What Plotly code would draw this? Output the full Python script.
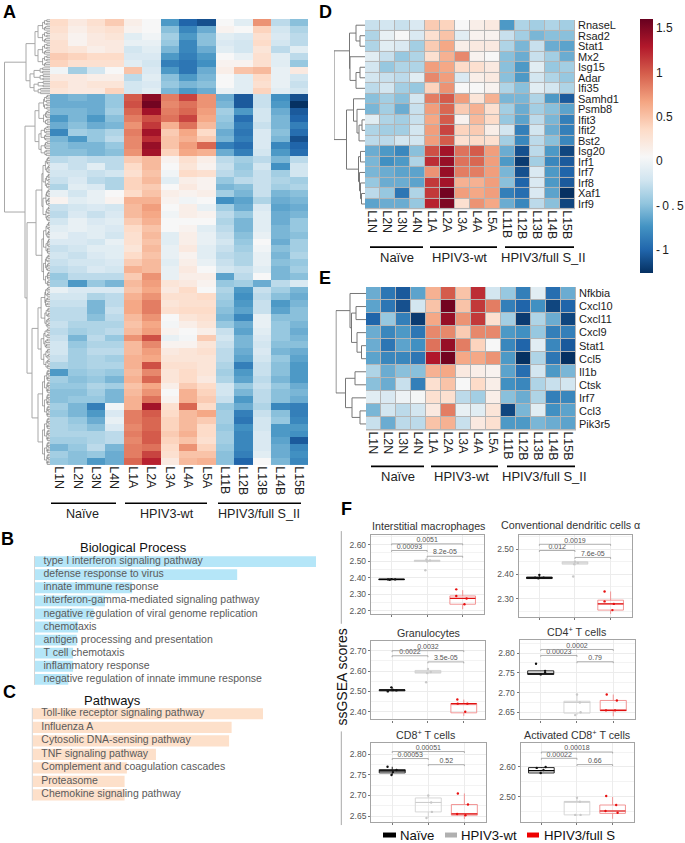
import plotly.graph_objects as go

W, H = 685, 843
FONT = "Liberation Sans"

COLS = ["L1N","L2N","L3N","L4N","L1A","L2A","L3A","L4A","L5A","L11B","L12B","L13B","L14B","L15B"]
GROUPS = ["Naïve", "HPIV3-wt", "HPIV3/full S_II"]

Z_A = [
[.35,.2,.3,.45,.15,.05,-.7,-1.0,-1.1,.05,-.1,.75,-.3,-.5],
[.3,.15,.25,.3,.1,.05,-.5,-.8,-.6,.1,.05,.4,-.2,-.35],
[.25,.1,.2,.25,-.1,0,-.4,-.7,-.5,-.1,-.15,.3,-.15,-.3],
[.3,.1,.2,.2,-.05,-.05,-.45,-.8,-.5,-.15,-.2,.35,-.2,-.3],
[.3,.25,.15,.2,-.2,-.1,-.55,-.8,-.6,-.1,-.2,.25,-.3,-.1],
[.45,.4,.35,.35,-.15,-.15,-.7,-.85,-.7,.05,-.05,.3,-.1,-.3],
[.4,.3,.3,.3,-.1,-.2,-.85,-.9,-.75,.1,.1,.3,-.1,-.45],
[.0,-.4,-.2,.05,.5,-.15,-.7,-.9,-.6,.15,.5,.55,-.05,.2],
[.2,.2,.15,.15,-.3,-.1,-.5,-.7,-.55,.05,-.1,.35,-.05,-.2],
[.3,.2,.25,.25,-.2,-.15,-.45,-.55,-.5,.05,-.1,.3,-.05,-.25],
[.25,.2,.2,.4,-.2,-.1,-.55,-.7,-.6,-.05,-.1,.4,-.1,-.2],
[-.6,-.55,-.6,-.45,1.0,1.45,.85,1.1,.75,-.6,-1.05,-.25,-.75,-1.1],
[-.6,-.6,-.6,-.45,1.05,1.55,.8,.9,.75,-.55,-1.05,-.25,-.7,-1.25],
[-.55,-.55,-.6,-.4,.95,1.35,.85,.95,.7,-.4,-.7,-.2,-.6,-1.05],
[-.7,-.55,-.7,-.5,.85,1.05,.9,1.1,.65,-.45,-.95,-.2,-.55,-1.0],
[-.6,-.5,-.6,-.55,.75,1.15,.6,.9,.55,-.5,-.85,-.25,-.55,-.85],
[-.8,-.4,-.45,-.35,.85,1.35,.45,.65,.35,-.6,-.9,-.15,-.5,-.95],
[-.55,-.7,-.45,-.3,.8,1.2,.5,.6,.45,-.55,-.85,-.15,-.55,-1.1],
[-.5,-.55,-.55,-.45,.8,1.4,.5,.7,.95,-.85,-.95,-.15,-.8,-1.0],
[-.5,-.5,-.55,-.5,.75,1.35,.4,.65,.6,-.6,-.85,-.2,-.7,-.95],
[-.3,-.25,-.3,-.3,.45,.55,.1,.3,.15,-.3,-.4,-.3,-.55,-.3],
[-.15,-.25,-.1,-.3,.35,.55,.05,.25,.1,-.25,-.45,-.2,-.75,-.2],
[-.2,-.2,-.25,-.2,.3,.5,0,.35,.3,-.3,-.4,-.25,-.4,-.2],
[-.25,-.15,-.3,-.35,.4,.55,-.1,.15,.1,-.45,-.3,-.25,-.35,-.4],
[-.35,-.1,-.15,-.35,.4,.45,.05,.2,.1,-.55,-.5,-.25,-.4,-.35],
[-.05,-.2,-.05,.05,.35,.5,.15,.1,.15,-.4,-.55,-.25,-.55,-.5],
[.1,-.1,-.05,.1,.6,.6,.1,0,.05,-.75,-.65,-.35,-.6,-.55],
[-.25,-.2,-.15,-.2,.55,.7,.05,.15,-.05,-.4,-.6,-.15,-.65,-.6],
[-.3,-.15,-.25,-.15,.55,.65,0,.15,.1,-.3,-.45,-.1,-.6,-.55],
[-.2,-.05,-.15,-.1,.45,.6,.05,.05,.05,-.35,-.55,-.1,-.6,-.45],
[-.1,-.05,-.1,-.15,.35,.5,.05,.1,-.1,-.3,-.55,-.1,-.55,-.45],
[-.05,-.15,-.1,-.2,.3,.55,-.1,.15,-.05,-.25,-.5,-.05,-.55,-.5],
[-.15,-.15,-.2,-.05,.3,.5,-.1,.15,-.05,-.2,-.45,.05,-.6,-.4],
[-.25,-.2,-.1,-.1,.25,.55,-.05,.2,-.1,-.25,-.4,.0,-.5,-.4],
[-.2,-.25,-.15,-.1,.35,.5,-.05,.1,-.1,-.3,-.35,-.05,-.55,-.35],
[-.25,-.2,-.2,-.15,.45,.55,-.1,.15,-.05,-.25,-.35,-.05,-.5,-.45],
[-.3,-.25,-.15,-.2,.6,.55,-.05,.2,.05,-.2,-.25,-.1,-.55,-.4],
[-.45,-.3,-.3,-.3,.45,.75,-.05,.15,.15,-.65,-.3,.05,-.55,-.5],
[-.4,-.7,-.45,-.55,.55,.7,.25,.2,.1,-.45,-.4,-.6,-.3,-.15],
[-.05,-.15,-.15,-.15,.5,.65,.2,.35,.05,-.35,-.7,-.25,-.4,-.55],
[-.2,-.2,-.35,-.3,.6,.75,.3,.3,.35,-.4,-.75,-.3,-.5,-.6],
[-.25,-.25,-.55,-.3,.65,.85,.25,.3,.3,-.45,-.7,-.25,-.7,-.55],
[-.3,-.3,-.55,-.25,.65,.85,.3,.35,.35,-.5,-.65,-.25,-.65,-.5],
[-.3,-.3,-.5,-.3,.55,.75,.05,.25,.3,-.55,-.8,-.05,-.5,-.5],
[-.25,-.35,-.35,-.35,.5,.65,.02,.15,.25,-.45,-.6,-.05,-.45,-.55],
[-.3,-.4,-.35,-.3,.55,.7,.1,.05,.15,-.25,-.65,-.1,-.45,-.6],
[-.25,-.55,-.3,-.45,.75,1.05,-.05,.02,.45,-.2,-.55,-.15,-.45,-.55],
[-.2,-.45,-.35,-.35,.55,.8,.1,.1,.25,-.25,-.55,-.2,-.5,-.5],
[-.2,-.4,-.3,-.3,.55,.7,.2,.25,.3,-.3,-.6,-.15,-.55,-.6],
[-.25,-.4,-.35,-.4,.6,.65,.25,.25,.25,-.3,-.65,-.2,-.45,-.65],
[-.35,-.4,-.35,-.35,.6,1.05,.3,.3,.25,-.35,-.85,-.25,-.5,-.7],
[-.7,-.45,-.4,-.45,.55,.8,.25,.35,.25,-.4,-.7,-.25,-.5,-.7],
[-.4,-.5,-.45,-.55,.6,.95,.25,.35,.2,-.35,-.65,-.3,-.55,-.7],
[-.45,-.45,-.35,-.4,.5,.65,.15,.45,.35,-.2,-.45,-.25,-.45,-.6],
[-.5,-.5,-.4,-.55,.55,.75,.05,.6,.4,-.2,-.55,-.3,-.5,-.55],
[-.5,-.45,-.45,-.55,.6,.9,.1,.6,.45,-.25,-.7,-.3,-.5,-.6],
[-.4,-.55,-.85,0,.6,1.35,.3,.95,.35,-.45,-.6,-.35,-.8,-.85],
[-.45,-.55,-.7,-.15,.85,1.0,.35,.55,.65,-.4,-.85,-.25,-.5,-.85],
[-.35,-.45,-.6,-.05,.85,.95,.4,.55,.45,-.4,-.9,-.2,-.45,-.8],
[-.35,-.4,-.5,-.15,.8,.95,.4,.55,.35,-.45,-.75,-.2,-.7,-.7],
[-.35,-.35,-.35,-.3,.85,1.0,.45,.6,.35,-.4,-.8,-.15,-.7,-.75],
[-.4,-.4,-.35,-.3,.8,1.0,.4,.5,.3,-.4,-.8,-.15,-.65,-1.05],
[-.55,-.45,-.3,-.55,.85,.9,.35,.75,.4,-.45,-.8,-.15,-.6,-.8],
[-.4,-.5,-.45,-.6,.85,1.1,.3,.5,.5,-.5,-.85,-.1,-.6,-.75],
[-.45,-.5,-.7,-.6,.95,1.25,.2,.55,.6,-.5,-1.0,.05,-.55,-.8],
]

GENES_D = ["RnaseL","Rsad2","Stat1","Mx2","Isg15","Adar","Ifi35","Samhd1","Psmb8","Ifit3","Ifit2","Bst2",
           "Isg20","Irf1","Irf7","Irf8","Xaf1","Irf9"]
Z_D = [
[-.25,-.2,-.25,-.15,.45,.4,.05,.15,.2,-.7,-.35,-.4,-.35,-.4],
[-.35,-.05,.05,-.15,.3,.5,-.1,.1,.1,-.25,-.4,-.55,-.5,-.5],
[-.35,-.1,-.15,-.4,.45,.65,.15,.2,.2,-.35,-.55,-.25,-.6,-.65],
[-.1,-.25,-.45,-.35,.3,.6,.8,.1,.05,-.5,-.6,-.25,-.4,-.6],
[-.2,-.45,-.35,-.35,.7,.65,.35,.3,.2,-.5,-.7,-.1,-.45,-.4],
[-.2,-.25,-.3,-.1,.8,.7,-.15,.15,.2,-.5,-.7,-.2,-.35,-.45],
[-.3,-.2,-.4,-.45,.4,.75,.05,.05,.1,-.35,-.5,-.1,-.2,-.35],
[-.5,-.4,-.5,-.2,.85,1.0,.7,.25,.6,-.55,-.55,-.35,-.7,-1.05],
[-.55,-.4,-.6,-.25,.7,.95,.45,.6,.3,-.4,-.6,-.4,-.5,-.65],
[-.1,-.35,-.4,-.25,.65,1.0,.1,.55,.35,-.45,-.65,-.3,-.55,-.85],
[-.35,-.4,-.4,-.2,.7,1.1,.4,.45,.15,-.2,-.85,-.2,-.6,-.85],
[-.3,-.3,-.2,-.2,.7,1.0,.3,.35,.3,-.4,-.8,-.3,-.5,-.8],
[-.6,-.7,-.8,-.5,1.05,1.35,.9,1.0,.7,-.6,-1.1,-.3,-.7,-1.15],
[-.55,-.75,-.7,-.35,1.2,1.4,.9,.95,.7,-.7,-1.2,-.4,-.8,-1.05],
[-.55,-.6,-.65,-.65,.75,1.4,.85,.85,.7,-.55,-1.1,-.15,-.7,-1.0],
[-.45,-.6,-.6,-.65,1.15,1.35,.6,.6,.7,-.5,-1.0,-.15,-.7,-1.05],
[-.3,-.45,-.9,-.35,1.15,1.55,.7,.65,.7,-.85,-.95,-.15,-.65,-1.25],
[-.65,-.6,-.6,-.45,1.25,1.5,.3,.75,.65,-.6,-.8,-.3,-.5,-1.15],
]

GENES_E = ["Nfkbia","Cxcl10","Cxcl11","Cxcl9","Stat1","Ccl5","Il1b","Ctsk","Irf7","Ccl3","Pik3r5"]
Z_E = [
[-.6,-.9,-1.05,-.65,.6,1.0,.5,1.2,-.2,-.45,-.85,-.1,-.95,-.6],
[-.65,-.9,-1.1,-.2,.5,1.55,.5,1.15,.85,-.85,-1.0,-.75,-1.15,-1.0],
[-1.0,-.45,-.85,-1.2,.65,1.4,.75,1.15,.3,-.4,-1.2,-.35,-.6,-1.15],
[-.6,-.8,-.7,-.9,.8,.8,.45,.8,.8,-.7,-.75,-.45,-.85,-.85],
[-.6,-.9,-.65,-.75,.9,1.4,.85,.4,.05,-.8,-1.0,-.1,-.8,-1.05],
[-.65,-.8,-.8,-.9,1.3,1.55,.65,.65,.75,-.7,-1.25,-.35,-.9,-1.25],
[-.35,-.6,-.5,-.5,.6,.65,.2,.15,.1,-.65,-.95,-.2,-.7,-.55],
[-.5,-.6,-.25,-.85,.3,.5,.05,.35,.15,-.75,-.8,-.35,-.25,-.2],
[-.1,-.15,-.02,.03,.3,.3,-.3,-.4,.15,-.5,-.6,-.35,-.85,-.8],
[-.55,-.2,-.3,-.2,.2,.85,-.05,-.1,.25,-1.15,-.55,-.1,-.75,-.65],
[-.25,-.6,-.3,-.3,.5,.6,-.25,.2,.3,-.7,-.7,-.55,-.6,-.65],
]

BP_TERMS = ["type I interferon signaling pathway","defense response to virus","innate immune response",
            "interferon-gamma-mediated signaling pathway","negative regulation of viral genome replication",
            "chemotaxis","antigen processing and presentation","T cell chemotaxis","inflammatory response",
            "negative regulation of innate immune response"]
BP_VALUES = [100,72,34.7,25,21,15.5,15,13.7,13.7,12]
PW_TERMS = ["Toll-like receptor signaling pathway","Influenza A","Cytosolic DNA-sensing pathway",
            "TNF signaling pathway","Complement and coagulation cascades","Proteasome","Chemokine signaling pathway"]
PW_VALUES = [100,86.4,85.3,53.6,41,40,40]

BOX_TITLES = ["Interstitial macrophages","Conventional dendritic cells α","Granulocytes",
              "CD4<sup>+</sup> T cells","CD8<sup>+</sup> T cells","Activated CD8<sup>+</sup> T cells"]
BOX_Q1 = [[2.388,2.498,2.24],[2.382,2.44,2.255],[2.503,2.59,2.395],[2.746,2.648,2.654],[2.755,2.66,2.652],[2.58,2.44,2.445]]
BOX_MED = [[2.39,2.503,2.275],[2.385,2.445,2.28],[2.507,2.595,2.44],[2.747,2.675,2.655],[2.76,2.683,2.655],[2.588,2.484,2.453]]
BOX_Q3 = [[2.392,2.506,2.29],[2.388,2.45,2.295],[2.508,2.603,2.44],[2.755,2.678,2.68],[2.763,2.694,2.678],[2.598,2.485,2.473]]
BOX_LOW = [[2.387,2.49,2.21],[2.38,2.435,2.24],[2.5,2.585,2.38],[2.744,2.643,2.64],[2.75,2.645,2.643],[2.578,2.437,2.427]]
BOX_HIGH = [[2.394,2.51,2.325],[2.397,2.455,2.33],[2.52,2.61,2.46],[2.755,2.695,2.695],[2.77,2.70,2.705],[2.60,2.497,2.50]]
POINT_X = [
 [[-.1,0,.1,-.05],[-.05,.08,0,-.02],[-.18,-.18,.11,.05]],
 [[0,-.12,.12,-.03],[-.05,.08,0,-.02],[-.17,-.17,.09,.05]],
 [[-.02,-.12,.12,.03],[-.05,.08,0,-.02],[-.18,-.17,.1,.04]],
 [[-.13,.12,0,.12],[-.05,.08,0,.1],[-.18,-.2,.1,.05]],
 [[-.13,.12,-.02,.02],[-.05,.08,0,.1],[-.18,-.2,.1,.03]],
 [[-.13,.12,-.02,.06],[-.05,.08,0,.1],[-.18,-.2,.1,.14]],
]
POINT_Y = [
 [[2.39,2.392,2.39,2.388],[2.445,2.505,2.5,2.51],[2.33,2.29,2.275,2.24]],
 [[2.397,2.385,2.385,2.383],[2.39,2.445,2.45,2.44],[2.33,2.29,2.28,2.255]],
 [[2.52,2.5,2.505,2.507],[2.545,2.595,2.61,2.59],[2.46,2.44,2.44,2.40]],
 [[2.773,2.755,2.746,2.75],[2.643,2.675,2.695,2.65],[2.695,2.655,2.68,2.655]],
 [[2.77,2.762,2.75,2.757],[2.645,2.683,2.70,2.66],[2.705,2.655,2.678,2.652]],
 [[2.597,2.60,2.58,2.59],[2.44,2.484,2.497,2.44],[2.503,2.453,2.473,2.447]],
]
BOX_PVALS = [["0.00093","0.0051","8.2e-05"],["0.012","0.0019","7.6e-05"],["0.0022","0.0032","3.5e-05"],
             ["0.00023","0.0002","0.79"],["0.00053","0.00051","0.52"],["0.00022","0.00018","0.66"]]
BRACKET_Y = [[2.565,2.605,2.53],[2.495,2.52,2.467],[2.675,2.70,2.645],[2.794,2.809,2.778],[2.79,2.807,2.775],[2.629,2.65,2.608]]
BOX_RANGE = [[2.182,2.658],[2.228,2.557],[2.3625,2.7475],[2.632,2.833],[2.636,2.827],[2.417,2.68]]
BOX_TICKS = [[2.2,2.3,2.4,2.5,2.6],[2.3,2.4,2.5],[2.4,2.5,2.6,2.7],[2.65,2.7,2.75,2.8],[2.65,2.7,2.75,2.8],[2.5,2.6]]
BOX_COLORS = ["#111111","#d2d2d2","#f08a8a"]
MED_COLORS = ["#000000","#cccccc","#e01010"]
PT_COLORS = ["#111111","#c8c8c8","#e81010"]

# dendrogram shapes: (height, left, right); integers are rows
TREE_D = (31, (15.5, (9, 0, (5, 1, 2)), (15, 3, (9, (5, 4, 5), 6))),
          (18.5, (11.5, 7, (8, 8, (6, (3, 9, 10), 11))), (6.5, (4.5, 12, 13), (5.5, 14, (4.5, 15, (3.5, 16, 17))))))
TREE_E = (30, (16, 0, (14.5, (10, 1, 2), (9, 3, (4.5, 4, 5)))),
          (20.5, (11, 6, 7), (14, 8, (6, 9, 10))))
SHRINK = [.8, .62, .74, .58, .86, .66, .7]

fig = go.Figure()
layout = dict(width=W, height=H, margin=dict(l=0, r=0, t=0, b=0), paper_bgcolor="white", plot_bgcolor="white",
              showlegend=False, font=dict(family=FONT, color="#222222"), annotations=[], shapes=[])
_n = [0]


def axes(x0, y0, x1, y1, xa=None, ya=None):
    _n[0] += 1
    n = _n[0]
    s = "" if n == 1 else str(n)
    off = dict(visible=False)
    layout["xaxis" + s] = {**(xa if xa is not None else off), "domain": [x0 / W, x1 / W], "anchor": "y" + s}
    layout["yaxis" + s] = {**(ya if ya is not None else off), "domain": [1 - y1 / H, 1 - y0 / H], "anchor": "x" + s}
    return "x" + s, "y" + s


def txt(x, y, t, size=12, color="#222222", xanchor="center", angle=0, weight="normal"):
    layout["annotations"].append(dict(x=x / W, y=1 - y / H, xref="paper", yref="paper", text=t, showarrow=False,
                                      xanchor=xanchor, yanchor="middle", textangle=angle,
                                      font=dict(size=size, color=color, family=FONT, weight=weight),
                                      borderpad=0, borderwidth=0))


def line(x0, y0, x1, y1, color="black", width=1.5):
    layout["shapes"].append(dict(type="line", xref="paper", yref="paper", x0=x0 / W, x1=x1 / W,
                                 y0=1 - y0 / H, y1=1 - y1 / H, line=dict(color=color, width=width)))


def rect(x0, y0, x1, y1, color, layer="above"):
    layout["shapes"].append(dict(type="rect", xref="paper", yref="paper", x0=x0 / W, x1=x1 / W,
                                 y0=1 - y0 / H, y1=1 - y1 / H, fillcolor=color, line=dict(width=0), layer=layer))


def walk(node, segs):
    if not isinstance(node, tuple):
        return float(node), 0.0
    h, a, b = node
    ya, ha = walk(a, segs)
    yb, hb = walk(b, segs)
    segs.append((h, [ha, h, h, hb, None], [ya, ya, yb, yb, None]))
    return (ya + yb) / 2, h


def flatten(segs, cond):
    xs, ys = [], []
    for h, sx, sy in segs:
        if cond(h):
            xs += sx
            ys += sy
    return xs, ys


def fill(a, b, h, depth=0):
    """small balanced subtree over four leaves per heatmap row"""
    if b - a < 1:
        return a
    m = a + ((b - a) // 2)
    f = SHRINK[(depth + a) % len(SHRINK)]
    return (h, fill(a, m, h * f, depth + 1), fill(m + 1, b, h * f, depth + 1))


def scaled(t, k=4):
    if isinstance(t, tuple):
        return (t[0], scaled(t[1], k), scaled(t[2], k))
    return t / k - 0.375


def cluster(r0, r1, h):
    return scaled(fill(r0 * 4, r1 * 4 + 3, h))


TREE_A = (45.5, (24, cluster(0, 6, 15), cluster(7, 10, 20)),
          (25, cluster(11, 19, 15), (23, cluster(20, 38, 14), (18, cluster(39, 50, 12), cluster(51, 64, 12)))))

PAL = ["#053061","#2166ac","#4393c3","#92c5de","#d1e5f0","#f7f7f7","#fddbc7","#f4a582","#d6604d","#b2182b","#67001f"]
ZMIN, ZMAX = -1.255, 1.6
MID = (0.05 - ZMIN) / (ZMAX - ZMIN)
SCALE = [[MID * i / 5, PAL[i]] for i in range(5)] + [[MID + (1 - MID) * i / 5, PAL[5 + i]] for i in range(6)]


def heat(x0, y0, x1, y1, z, genes=None, bar=False):
    n = len(z)
    xa = dict(type="category", tickangle=90, ticks="", showgrid=False, showline=False, zeroline=False,
              tickmode="array", tickvals=COLS, ticktext=COLS,
              tickfont=dict(size=12.4, color="#1c1c1c", family=FONT))
    ya = dict(range=[n - .5, -.5], showgrid=False, zeroline=False, ticks="", showline=False, showticklabels=False)
    if genes:
        ya.update(side="right", tickmode="array", tickvals=list(range(n)), ticktext=genes, showticklabels=True,
                  ticklabelstandoff=2, tickfont=dict(size=11, color="#1c1c1c", family=FONT))
        rect(x0, y0, x1, y1, "#b5b5b5", layer="below")
    xn, yn = axes(x0, y0, x1, y1, xa, ya)
    gap = 1 if genes else 0
    tr = go.Heatmap(z=z, x=COLS, y=list(range(n)), colorscale=SCALE, zmin=ZMIN, zmax=ZMAX, xaxis=xn, yaxis=yn,
                    xgap=gap, ygap=gap, showscale=bar, hoverinfo="skip")
    if bar:
        tr.colorbar = dict(x=640 / W, xanchor="left", y=1 - 18 / H, yanchor="top", len=254, lenmode="pixels",
                           thickness=13, thicknessmode="pixels", outlinewidth=0, xpad=0, ypad=0, ticks="",
                           tickmode="array", tickvals=[-1, -.5, 0, .5, 1, 1.5],
                           ticktext=["-\u20091", "-\u20090\u2009.\u20095", "0", "0.5", "1", "1.5"],
                           tickfont=dict(size=12, color="#1c1c1c", family=FONT))
    fig.add_trace(tr)
    return xn, yn


def dendro(x0, y0, x1, y1, tree, n, split=None):
    xn, yn = axes(x0, y0, x1, y1, dict(visible=False, range=[x1 - x0, 0]), dict(visible=False, range=[n - .5, -.5]))
    segs = []
    walk(tree, segs)
    if split:
        for cond, col, wd in ((lambda h: h >= split, "#a8a8a8", 1.0), (lambda h: h < split, "#6e6e6e", .6)):
            xs, ys = flatten(segs, cond)
            fig.add_trace(go.Scatter(x=xs, y=ys, mode="lines", line=dict(color=col, width=wd), xaxis=xn, yaxis=yn,
                                     hoverinfo="skip"))
    else:
        xs, ys = flatten(segs, lambda h: True)
        fig.add_trace(go.Scatter(x=xs, y=ys, mode="lines", line=dict(color="#777777", width=1), xaxis=xn, yaxis=yn,
                                 hoverinfo="skip"))


def group_row(spans, ly, centers, ty, size):
    for (a, b) in spans:
        line(a, ly, b, ly, "black", 1.6)
    for g, c in zip(GROUPS, centers):
        txt(c, ty, g, size, "#222222")


# Panel A
heat(50, 18, 308, 466, Z_A)
dendro(4, 18, 50, 466, TREE_A, len(Z_A), split=9)
group_row([(51, 116), (125, 207), (218, 301)], 504, [82, 167, 259], 515, 12.6)
# Panel D
heat(365, 19, 575, 209, Z_D, GENES_D, bar=True)
dendro(334, 19, 365, 209, TREE_D, len(Z_D))
group_row([(370, 423), (430, 497), (505, 574)], 247, [397, 459, 543], 257, 13)
# Panel E
heat(366, 287, 576, 431, Z_E, GENES_E)
dendro(335.5, 287, 366, 431, TREE_E, len(Z_E))
group_row([(371, 424), (431, 498), (507, 575)], 467, [398, 461, 544], 477, 13)

for label, lx, ly in (("A", 9, 11), ("D", 325, 11), ("E", 325, 278), ("B", 8, 540), ("C", 9, 693), ("F", 346, 510)):
    txt(lx, ly, label, 18, "#000000", weight="bold")


# Panels B / C
def bars(x0, y0, x1, y1, terms, vals, color, text_px):
    n = len(vals)
    xn, yn = axes(x0, y0, x1, y1, dict(visible=False, range=[0, 100]), dict(visible=False, range=[n - .5, -.5]))
    fig.add_trace(go.Bar(x=vals, y=list(range(n)), orientation="h", marker=dict(color=color, line=dict(width=0)),
                         width=.83, xaxis=xn, yaxis=yn, hoverinfo="skip"))
    fig.add_trace(go.Scatter(x=[text_px / (x1 - x0) * 100] * n, y=list(range(n)), mode="text", text=terms,
                             textposition="middle right", textfont=dict(size=10.5, color="#5a5a5a", family=FONT),
                             xaxis=xn, yaxis=yn, hoverinfo="skip", cliponaxis=False))
    line(x0, y0 + 1, x0, y1 - 1, "#d5d5d5", 1)


bars(34.5, 556, 316, 687.3, BP_TERMS, BP_VALUES, "#b5e6f8", 9)
bars(32.3, 708.5, 263, 803.5, PW_TERMS, PW_VALUES, "#fde0ca", 9)
txt(133, 548, "Biological Process", 13, "#111111")
txt(113, 702, "Pathways", 13, "#111111")

# Panel F
BOX_GEOM = [(371, 536, 484, 615), (518.7, 536, 632, 618), (371.3, 642.3, 485.3, 721),
            (519.7, 641.3, 635, 721), (371.3, 745, 486, 823.7), (520.7, 744.7, 634, 823.7)]
TITLE_POS = [(428, 527), (570, 526), (428, 634), (576, 633), (426, 736), (577, 736)]
for i, (gx0, gy0, gx1, gy1) in enumerate(BOX_GEOM):
    xa = dict(range=[-.58, 2.6], tickmode="array", tickvals=[0, 1, 2], showticklabels=False, ticks="outside", ticklen=2,
              tickcolor="#777777", showgrid=True, gridcolor="#ececec", gridwidth=1, zeroline=False, showline=True,
              mirror=True, linecolor="#a4a4a4", linewidth=1.4)
    step = BOX_TICKS[i][1] - BOX_TICKS[i][0]
    ya = dict(range=BOX_RANGE[i], tickmode="array", tickvals=BOX_TICKS[i], tickformat=".2f", ticks="outside", ticklen=2,
              tickcolor="#777777", showgrid=True, gridcolor="#ececec", gridwidth=1, zeroline=False, showline=True,
              mirror=True, linecolor="#a4a4a4", linewidth=1.4, tickfont=dict(size=8.5, color="#555555", family=FONT),
              minor=dict(showgrid=True, gridcolor="#f3f3f3", tick0=BOX_TICKS[i][0], dtick=step / 2, ticks=""))
    xn, yn = axes(gx0, gy0, gx1, gy1, xa, ya)
    for g in range(3):
        fig.add_trace(go.Box(x=[g], q1=[BOX_Q1[i][g]], median=[BOX_MED[i][g]], q3=[BOX_Q3[i][g]],
                             lowerfence=[BOX_LOW[i][g]], upperfence=[BOX_HIGH[i][g]], width=.72, boxpoints=False,
                             whiskerwidth=0, line=dict(color=BOX_COLORS[g], width=.9), fillcolor="rgba(0,0,0,0)",
                             xaxis=xn, yaxis=yn, hoverinfo="skip"))
        fig.add_trace(go.Scatter(x=[g - .36, g + .36], y=[BOX_MED[i][g]] * 2, mode="lines",
                                 line=dict(color=MED_COLORS[g], width=1.2 if g != 1 else .9),
                                 xaxis=xn, yaxis=yn, hoverinfo="skip"))
        fig.add_trace(go.Scatter(x=[g + d for d in POINT_X[i][g]], y=POINT_Y[i][g], mode="markers",
                                 marker=dict(color=PT_COLORS[g], size=2.4), xaxis=xn, yaxis=yn, hoverinfo="skip"))
    tip = (BOX_RANGE[i][1] - BOX_RANGE[i][0]) * .018
    for (a, b), p, by in zip(((0, 1), (0, 2), (1, 2)), BOX_PVALS[i], BRACKET_Y[i]):
        fig.add_trace(go.Scatter(x=[a, a, b, b], y=[by - tip, by, by, by - tip], mode="lines",
                                 line=dict(color="#9a9a9a", width=.8), xaxis=xn, yaxis=yn, hoverinfo="skip"))
        fig.add_trace(go.Scatter(x=[(a + b) / 2], y=[by], mode="text", text=[p], textposition="top center",
                                 textfont=dict(size=7, color="#555555", family=FONT), xaxis=xn, yaxis=yn,
                                 hoverinfo="skip", cliponaxis=False))
    txt(TITLE_POS[i][0], TITLE_POS[i][1], BOX_TITLES[i], 10.7, "#333333")

txt(342, 679, "ssGSEA scores", 14, "#111111", angle=-90)
line(341.3, 532, 341.3, 625, "#a8a8a8", 1)
line(341.3, 733, 341.3, 827, "#a8a8a8", 1)
for (a, b, col), (tx, t) in zip(((383, 396, "#000000"), (445, 457, "#b0b0b0"), (527, 539, "#ee0000")),
                                ((400, "Naïve"), (461, "HPIV3-wt"), (544, "HPIV3/full S"))):
    rect(a, 834.5, b, 839.5, col)
    txt(tx, 837, t, 13.2, "#111111", xanchor="left")

fig.update_layout(**layout)
fig.write_html("out.html", post_script="document.body.style.margin='0';document.body.style.overflow='hidden';",
               config=dict(displayModeBar=False))
